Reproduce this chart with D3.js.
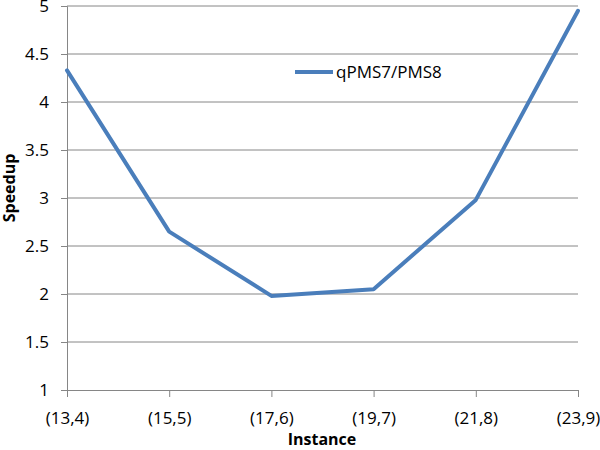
<!DOCTYPE html>
<html>
<head>
<meta charset="utf-8">
<script src="https://d3js.org/d3.v7.min.js"></script>
<style>
  body { margin: 0; background: #fff; }
  text { font-family: "Open Sans", sans-serif; fill: #000; }
</style>
</head>
<body>
<div id="chart"></div>
<script>
var categories = ["(13,4)", "(15,5)", "(17,6)", "(19,7)", "(21,8)", "(23,9)"];
var speedup = [4.33, 2.65, 1.98, 2.05, 2.98, 4.95];
var yTicks = [1, 1.5, 2, 2.5, 3, 3.5, 4, 4.5, 5];
var seriesName = "qPMS7/PMS8";

var svgWidth = 600;
var svgHeight = 450;
var margin = { top: 6, right: 22, bottom: 60, left: 67 };
var width = svgWidth - margin.left - margin.right;
var height = svgHeight - margin.top - margin.bottom;

var svg = d3.select("#chart").append("svg")
    .attr("width", svgWidth)
    .attr("height", svgHeight);

var chart = svg.append("g")
    .attr("transform", `translate(${margin.left}, ${margin.top})`);

var x = d3.scalePoint().domain(categories).range([0, width]);
var y = d3.scaleLinear().domain([1, 5]).range([height, 0]);

// gridlines
chart.selectAll(".grid")
    .data(yTicks.slice(1))
    .enter()
    .append("line")
    .attr("x1", 0)
    .attr("x2", width)
    .attr("y1", d => y(d))
    .attr("y2", d => y(d))
    .attr("stroke", "#868686")
    .attr("stroke-width", 1);

// y axis
var leftAxis = d3.axisLeft(y).tickValues(yTicks).tickSize(6).tickPadding(12)
    .tickFormat(d3.format("~g"));
var yAxisG = chart.append("g").call(leftAxis);
yAxisG.select(".domain").attr("stroke", "#868686");
yAxisG.selectAll(".tick line").attr("stroke", "#868686");
yAxisG.selectAll("text").style("font-size", "17px").attr("fill", "#000");

// x axis
var bottomAxis = d3.axisBottom(x).tickSize(7).tickPadding(15);
var xAxisG = chart.append("g")
    .attr("transform", `translate(0, ${height})`)
    .call(bottomAxis);
xAxisG.select(".domain").attr("stroke", "#868686");
xAxisG.selectAll(".tick line").attr("stroke", "#868686");
xAxisG.selectAll("text").style("font-size", "17px").attr("fill", "#000");

// line
var line = d3.line()
    .x((d, i) => x(categories[i]))
    .y(d => y(d));

chart.append("path")
    .datum(speedup)
    .attr("d", line)
    .attr("fill", "none")
    .attr("stroke", "#4a7ebb")
    .attr("stroke-width", 4)
    .attr("stroke-linejoin", "round")
    .attr("stroke-linecap", "round");

// legend
var legend = svg.append("g").attr("transform", "translate(295, 72)");
legend.append("line")
    .attr("x1", 0).attr("x2", 38)
    .attr("y1", 0).attr("y2", 0)
    .attr("stroke", "#4a7ebb")
    .attr("stroke-width", 4);
legend.append("text")
    .attr("x", 41)
    .attr("y", 6)
    .style("font-size", "17px")
    .text(seriesName);

// axis titles
svg.append("text")
    .attr("x", 322)
    .attr("y", 445)
    .attr("text-anchor", "middle")
    .style("font-size", "16px")
    .style("font-weight", "bold")
    .text("Instance");

svg.append("text")
    .attr("transform", "translate(15, 188) rotate(-90)")
    .attr("text-anchor", "middle")
    .style("font-size", "16px")
    .style("font-weight", "bold")
    .text("Speedup");
</script>
</body>
</html>
